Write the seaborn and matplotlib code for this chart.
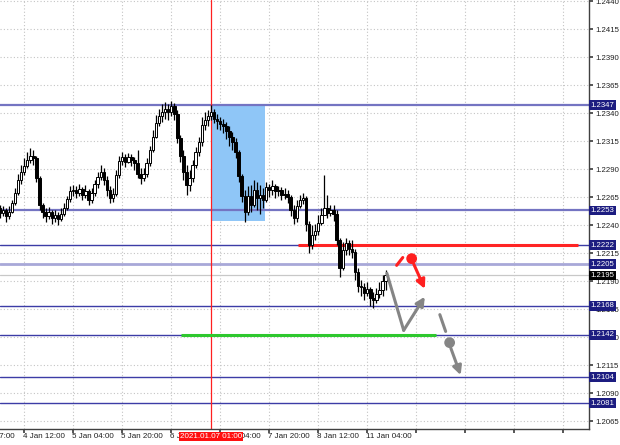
import numpy as np
import pandas as pd
import matplotlib
matplotlib.use("Agg")
import matplotlib.pyplot as plt
import matplotlib.transforms as mtransforms
import seaborn as sns

sns.set_theme(style="white")
plt.rcParams['font.family'] = ['Liberation Sans', 'DejaVu Sans']

# H1 candles, bar index 0..126 (4 Jan 04:00 .. 11 Jan 10:00)
first_open = 1.2255
closes = [1.2251, 1.2253, 1.2248, 1.2252, 1.2260, 1.2269, 1.2280, 1.2287, 1.2293, 1.2298,
          1.2302, 1.2300, 1.2282, 1.2258, 1.2252, 1.2248, 1.2252, 1.2246, 1.2249, 1.2245,
          1.2250, 1.2255, 1.2263, 1.2270, 1.2271, 1.2269, 1.2272, 1.2267, 1.2270, 1.2262,
          1.2269, 1.2277, 1.2283, 1.2287, 1.2280, 1.2271, 1.2264, 1.2268, 1.2285, 1.2297,
          1.2301, 1.2296, 1.2301, 1.2298, 1.2295, 1.2286, 1.2282, 1.2286, 1.2295, 1.2307,
          1.2319, 1.2331, 1.2337, 1.2341, 1.2344, 1.2341, 1.2346, 1.2339, 1.2318, 1.2302,
          1.2287, 1.2276, 1.2282, 1.2294, 1.2305, 1.2314, 1.2329, 1.2334, 1.2337, 1.2341,
          1.2335, 1.2333, 1.2330, 1.2328, 1.2324, 1.2319, 1.2314, 1.2305, 1.2284, 1.2266,
          1.2252, 1.2266, 1.2258, 1.2271, 1.2264, 1.2267, 1.2262, 1.2274, 1.2271, 1.2275,
          1.2270, 1.2271, 1.2267, 1.2268, 1.2265, 1.2253, 1.2246, 1.2257, 1.2262, 1.2264,
          1.2241, 1.2222, 1.2231, 1.2235, 1.2242, 1.2249, 1.2255, 1.2251, 1.2253, 1.2250,
          1.2227, 1.2202, 1.2218, 1.2224, 1.2219, 1.2216, 1.2198, 1.2186, 1.2185, 1.2179,
          1.2183, 1.2175, 1.2173, 1.2178, 1.2182, 1.2190, 1.2195]
highs = [1.2258, 1.2257, 1.2255, 1.2257, 1.2262, 1.2273, 1.2286, 1.2294, 1.2300, 1.2305,
         1.2309, 1.2307, 1.2302, 1.2284, 1.2260, 1.2255, 1.2256, 1.2253, 1.2253, 1.2252,
         1.2255, 1.2260, 1.2266, 1.2275, 1.2276, 1.2275, 1.2277, 1.2274, 1.2276, 1.2272,
         1.2273, 1.2280, 1.2287, 1.2294, 1.2291, 1.2284, 1.2275, 1.2273, 1.2289, 1.2302,
         1.2305, 1.2303, 1.2304, 1.2303, 1.2301, 1.2307, 1.2291, 1.2291, 1.2300, 1.2311,
         1.2325, 1.2338, 1.2344, 1.2348, 1.2350, 1.2348, 1.2351, 1.2349, 1.2343, 1.2320,
         1.2307, 1.2294, 1.2289, 1.2298, 1.2310, 1.2319, 1.2336, 1.2341, 1.2343, 1.2347,
         1.2344, 1.2339, 1.2336, 1.2335, 1.2332, 1.2328, 1.2323, 1.2318, 1.2307, 1.2286,
         1.2271, 1.2275, 1.2276, 1.2280, 1.2278, 1.2276, 1.2273, 1.2278, 1.2277, 1.2280,
         1.2277, 1.2275, 1.2274, 1.2273, 1.2271, 1.2267, 1.2258, 1.2262, 1.2267, 1.2269,
         1.2266, 1.2244, 1.2240, 1.2241, 1.2249, 1.2255, 1.2285, 1.2267, 1.2258, 1.2258,
         1.2253, 1.2228, 1.2225, 1.2228, 1.2227, 1.2227, 1.2219, 1.2202, 1.2191, 1.2188,
         1.2189, 1.2185, 1.2180, 1.2184, 1.2189, 1.2195, 1.2200]
lows = [1.2246, 1.2248, 1.2243, 1.2245, 1.2251, 1.2258, 1.2267, 1.2277, 1.2285, 1.2291,
        1.2295, 1.2294, 1.2278, 1.2253, 1.2246, 1.2243, 1.2245, 1.2241, 1.2243, 1.2240,
        1.2244, 1.2248, 1.2253, 1.2261, 1.2266, 1.2264, 1.2266, 1.2262, 1.2264, 1.2258,
        1.2260, 1.2266, 1.2273, 1.2280, 1.2276, 1.2266, 1.2260, 1.2261, 1.2266, 1.2282,
        1.2294, 1.2292, 1.2295, 1.2293, 1.2289, 1.2282, 1.2277, 1.2279, 1.2283, 1.2293,
        1.2305, 1.2318, 1.2328, 1.2332, 1.2335, 1.2334, 1.2337, 1.2334, 1.2313, 1.2296,
        1.2280, 1.2267, 1.2270, 1.2278, 1.2291, 1.2302, 1.2311, 1.2325, 1.2328, 1.2334,
        1.2331, 1.2326, 1.2325, 1.2322, 1.2317, 1.2311, 1.2307, 1.2300, 1.2278, 1.2261,
        1.2243, 1.2249, 1.2252, 1.2256, 1.2253, 1.2250, 1.2255, 1.2261, 1.2265, 1.2267,
        1.2264, 1.2266, 1.2262, 1.2263, 1.2260, 1.2248, 1.2241, 1.2243, 1.2255, 1.2259,
        1.2235, 1.2215, 1.2219, 1.2227, 1.2231, 1.2240, 1.2249, 1.2246, 1.2248, 1.2244,
        1.2222, 1.2194, 1.2200, 1.2213, 1.2213, 1.2211, 1.2191, 1.2180, 1.2177, 1.2173,
        1.2177, 1.2168, 1.2166, 1.2170, 1.2175, 1.2177, 1.2182]

time_ticks = [-10.5, 8, 24, 40, 56, 72, 88, 104, 120, 136, 152, 168, 184]
time_labels = ['31 Dec 17:00', '4 Jan 12:00', '5 Jan 04:00', '5 Jan 20:00', '6 Jan 12:00',
               '7 Jan 04:00', '7 Jan 20:00', '8 Jan 12:00', '11 Jan 04:00', '', '', '', '']
price_ticks = [1.2065, 1.2090, 1.2115, 1.2140, 1.2165, 1.2190, 1.2215, 1.2240, 1.2265,
               1.2290, 1.2315, 1.2340, 1.2365, 1.2390, 1.2415, 1.2440]

levels = [1.2347, 1.2253, 1.2222, 1.2205, 1.2168, 1.2142, 1.2104, 1.2081]
level_colors = ['#7474c2', '#7474c2', '#3c3ca6', '#a8a8d8', '#3c3ca6', '#3c3ca6', '#3c3ca6', '#3c3ca6']
level_widths = [1.6, 1.6, 1.0, 2.0, 1.0, 1.0, 1.0, 1.0]
bid = 1.2195

marker_bar = 69
marker_label = '2021.01.07 01:00'
zone_bars = (69, 86.5)
zone_prices = (1.22436, 1.2347)
red_level = (97.3, 188.7, 1.2222)
green_level = (59.3, 142.5, 1.2142)

# forecast sketch (bar, price)
gray_path_x = [126.4, 131.9]
gray_path_y = [1.2197, 1.2146]
gray_arrow1 = ((131.9, 1.2146), (138.8, 1.2176))
red_dash = ([129.6, 131.6], [1.2204, 1.2211])
red_dot = (134.5, 1.2210)
red_arrow = ((135.2, 1.2205), (138.8, 1.2183))
gray_dash = ([143.7, 145.6], [1.2160, 1.2145])
gray_dot = (146.9, 1.2135)
gray_arrow2 = ((147.3, 1.2130), (150.5, 1.2106))

df = pd.DataFrame({'bar': np.arange(len(closes)), 'close': closes, 'high': highs, 'low': lows})
df['open'] = [first_open] + closes[:-1]
df['up'] = df['close'] >= df['open']

fig = plt.figure(figsize=(6.2, 4.45), dpi=100)
ax = fig.add_axes([0, 16 / 445, 589 / 620, 429 / 445])
ax.set_xlim(0.1, 192.4)
ax.set_ylim(1.20579, 1.24409)

# grid
ax.set_xticks([t for t in time_ticks if t > 0])
ax.set_yticks(price_ticks)
ax.grid(True, color='#c4c4c4', linestyle=(0, (1, 2)), linewidth=0.8)
ax.set_axisbelow(True)

# zone and vertical marker
ax.add_patch(plt.Rectangle((zone_bars[0], zone_prices[0]), zone_bars[1] - zone_bars[0],
                           zone_prices[1] - zone_prices[0], color='#8fc6f7', zorder=1, lw=0))

for lv, col, w in zip(levels, level_colors, level_widths):
    ax.axhline(lv, color=col, lw=w, zorder=2)
ax.axhline(bid, color='#c8c8c8', lw=0.9, zorder=2)
ax.hlines(red_level[2], red_level[0], red_level[1], color='#ff2424', lw=2.2, zorder=3)
ax.hlines(green_level[2], green_level[0], green_level[1], color='#2ec82e', lw=2.2, zorder=3)
ax.axvline(marker_bar, color='#ff2020', lw=0.9, zorder=2)

# candles
ax.vlines(df['bar'], df['low'], df['high'], color='black', lw=0.9, zorder=4)
body_lo = np.minimum(df['open'], df['close'])
body_h = np.maximum(np.abs(df['close'] - df['open']), 0.00004)
ax.bar(df['bar'], body_h, bottom=body_lo, width=0.8,
       color=np.where(df['up'], 'white', 'black'), edgecolor='black', linewidth=0.7, zorder=5)

# forecast sketch
sns.lineplot(x=gray_path_x, y=gray_path_y, sort=False, color='#858585', lw=2.2, ax=ax, zorder=6)
arrow_kw = dict(arrowstyle='-|>', lw=2.2, mutation_scale=13, shrinkA=0, shrinkB=0)
ax.annotate('', xy=gray_arrow1[1], xytext=gray_arrow1[0],
            arrowprops=dict(color='#858585', **arrow_kw), zorder=6)
ax.plot(*red_dash, color='#ff2020', lw=2.2, zorder=6)
ax.annotate('', xy=red_arrow[1], xytext=red_arrow[0],
            arrowprops=dict(color='#ff2020', **arrow_kw), zorder=6)
ax.plot(*gray_dash, color='#858585', lw=2.2, zorder=6)
ax.annotate('', xy=gray_arrow2[1], xytext=gray_arrow2[0],
            arrowprops=dict(color='#858585', **arrow_kw), zorder=6)
sns.scatterplot(x=[red_dot[0]], y=[red_dot[1]], color='#ff2020', s=60, ax=ax, zorder=7, edgecolor='none')
sns.scatterplot(x=[gray_dot[0]], y=[gray_dot[1]], color='#858585', s=60, ax=ax, zorder=7, edgecolor='none')

# axes frame
for side in ['top', 'left']:
    ax.spines[side].set_visible(False)
for side in ['right', 'bottom']:
    ax.spines[side].set_color('#404040')
    ax.spines[side].set_linewidth(1)
ax.yaxis.tick_right()
ax.set_yticklabels([f'{p:.4f}' for p in price_ticks], fontsize=5.6, color='#202020')
ax.tick_params(axis='y', length=3, pad=1.5, color='#404040', direction='out', right=True)
ax.set_xticklabels([])
ax.tick_params(axis='x', length=3, color='#404040', direction='out', bottom=True)
ax.set_xlabel('')
ax.set_ylabel('')

tx = mtransforms.blended_transform_factory(ax.transData, ax.transAxes)
for b, lab in zip(time_ticks, time_labels):
    ax.text(b - 0.3, -0.009, lab, transform=tx, ha='left', va='top', fontsize=5.8,
            color='#202020', clip_on=False)
ax.text(marker_bar, -0.009, marker_label, transform=tx, ha='center', va='top', fontsize=5.8,
        color='white', clip_on=False, zorder=10,
        bbox=dict(boxstyle='square,pad=0.15', fc='#ff1010', ec='none'))

ty = mtransforms.blended_transform_factory(ax.transAxes, ax.transData)
for lv in levels:
    ax.text(1.003, lv, f'{lv:.4f}', transform=ty, ha='left', va='center', fontsize=5.6,
            color='white', clip_on=False, zorder=10,
            bbox=dict(boxstyle='square,pad=0.18', fc='#1c1c80', ec='none'))
ax.text(1.003, bid, f'{bid:.4f}', transform=ty, ha='left', va='center', fontsize=5.6,
        color='white', clip_on=False, zorder=10,
        bbox=dict(boxstyle='square,pad=0.18', fc='black', ec='none'))

fig.savefig('out.png', dpi=100)
